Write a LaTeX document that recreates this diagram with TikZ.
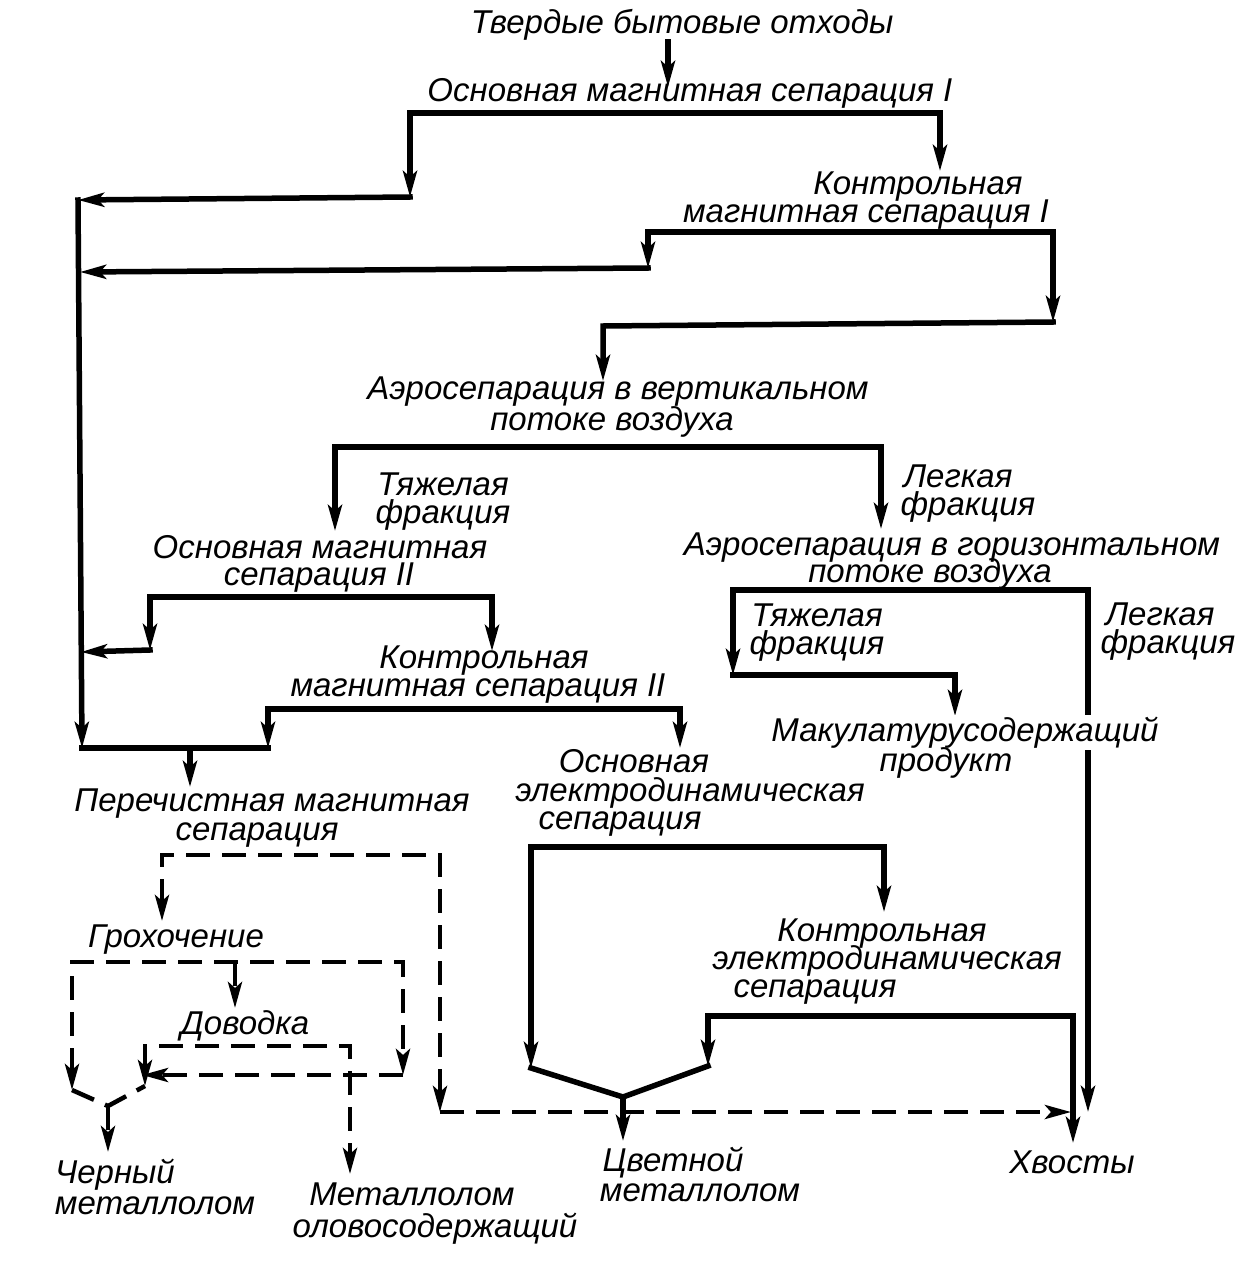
\documentclass[tikz,border=0pt]{standalone}
\usepackage{fontspec}
\setmainfont{Liberation Sans}
\usetikzlibrary{arrows.meta}
\begin{document}
\begin{tikzpicture}[x=1pt,y=-1pt,
  >={Stealth[length=26pt,width=14pt,inset=6pt]},
  lbl/.style={font=\itshape\fontsize{33}{33}\selectfont, inner sep=0pt, anchor=base},
  solidln/.style={line width=5.5pt, line join=miter, line cap=rect},
  dashln/.style={line width=4.5pt, line join=miter, dash pattern=on 24pt off 12pt}]
\useasboundingbox (0,0) rectangle (1256,1266);
\fill[white] (0,0) rectangle (1256,1266);
% ---------- coordinates ----------
\coordinate (p1a) at (668,42); \coordinate (p1b) at (668,87);
\coordinate (a1) at (410,113); \coordinate (a2) at (940,113);
\coordinate (a3) at (410,197); \coordinate (a4) at (940,171);
\coordinate (L1) at (78,200); \coordinate (L2) at (80,272);
\coordinate (L3) at (81,652); \coordinate (L4) at (82,748);
\coordinate (b1) at (648,232); \coordinate (b2) at (1053,232);
\coordinate (b3) at (648,268); \coordinate (b4) at (1053,322);
\coordinate (b5) at (603,326); \coordinate (b6) at (603,381);
\coordinate (c1) at (335,447); \coordinate (c2) at (881,447);
\coordinate (c3) at (335,531); \coordinate (c4) at (881,529);
\coordinate (d1) at (150,597); \coordinate (d2) at (492,597);
\coordinate (d3) at (150,650); \coordinate (d4) at (492,651);
\coordinate (e1) at (268,709); \coordinate (e2) at (680,709);
\coordinate (e3) at (268,748); \coordinate (e4) at (680,748);
\coordinate (e5) at (190,748); \coordinate (e6) at (190,787);
\coordinate (f1) at (733,590); \coordinate (f2) at (1088,590);
\coordinate (f3) at (733,675); \coordinate (f4) at (955,675);
\coordinate (f5) at (955,716); \coordinate (f6) at (1088,1112);
\coordinate (g1) at (531,847); \coordinate (g2) at (884,847);
\coordinate (g3) at (531,1068); \coordinate (g4) at (884,912);
\coordinate (h1) at (708,1016); \coordinate (h2) at (1073,1016);
\coordinate (h3) at (708,1066); \coordinate (h4) at (1073,1143);
\coordinate (m1) at (623,1097); \coordinate (m2) at (623,1141);
\coordinate (q1) at (162,855); \coordinate (q2) at (440,855);
\coordinate (q3) at (162,921); \coordinate (q4) at (440,1112);
\coordinate (q5) at (1071,1112);
\coordinate (r1) at (72,962); \coordinate (r2) at (403,962);
\coordinate (r3) at (235,962); \coordinate (r4) at (235,1008);
\coordinate (r5) at (72,1090); \coordinate (r6) at (403,1075);
\coordinate (r7) at (142,1075);
\coordinate (s1) at (145,1046); \coordinate (s2) at (350,1046);
\coordinate (s3) at (145,1086); \coordinate (s4) at (350,1174);
\coordinate (u1) at (108,1106); \coordinate (u2) at (108,1152);
% ---------- solid connectors ----------
\draw[solidln,->] (p1a) -- (p1b);
\draw[solidln,<->] (a3) -- (a1) -- (a2) -- (a4);
\draw[solidln,->] (a3) -- (L1);
\draw[solidln,->] (L1) -- (L4);
\draw[solidln,<->] (b3) -- (b1) -- (b2) -- (b4);
\draw[solidln,->] (b4) -- (b5) -- (b6);
\draw[solidln,->] (b3) -- (L2);
\draw[solidln,<->] (c3) -- (c1) -- (c2) -- (c4);
\draw[solidln,<->] (d3) -- (d1) -- (d2) -- (d4);
\draw[solidln,->] (d3) -- (L3);
\draw[solidln,<->] (e3) -- (e1) -- (e2) -- (e4);
\draw[solidln] (L4) -- (e3);
\draw[solidln,->] (e5) -- (e6);
\draw[solidln,<->] (f3) -- (f1) -- (f2) -- (f6);
\draw[solidln,->] (f3) -- (f4) -- (f5);
\draw[solidln,<->] (g3) -- (g1) -- (g2) -- (g4);
\draw[solidln,<->] (h3) -- (h1) -- (h2) -- (h4);
\draw[solidln] (g3) -- (m1) -- (h3);
\draw[solidln,->] (m1) -- (m2);
% ---------- dashed connectors ----------
\draw[dashln,<->] (q3) -- (q1) -- (q2) -- (q4);
\draw[dashln,->] (q4) -- (q5);
\draw[dashln,<->] (r5) -- (r1) -- (r2) -- (r6);
\draw[dashln,->] (r6) -- (r7);
\draw[dashln,->] (r3) -- (r4);
\draw[dashln,<->] (s3) -- (s1) -- (s2) -- (s4);
\draw[dashln] (r5) -- (u1) -- (s3);
\draw[dashln,->] (u1) -- (u2);
% ---------- labels ----------
\node[lbl] (t1) at (682,33) {Твердые бытовые отходы};
\node[lbl] (ms1) at (690,101) {Основная магнитная сепарация I};
\node[lbl] (kms1a) at (918,194) {Контрольная};
\node[lbl] (kms1b) at (866,222) {магнитная сепарация I};
\node[lbl] (av1) at (618,399) {Аэросепарация в вертикальном};
\node[lbl] (av2) at (612,430) {потоке воздуха};
\node[lbl] (th1) at (443,495) {Тяжелая};
\node[lbl] (th2) at (443,523) {фракция};
\node[lbl] (lg1) at (958,487) {Легкая};
\node[lbl] (lg2) at (968,515) {фракция};
\node[lbl] (ms2a) at (320,558) {Основная магнитная};
\node[lbl] (ms2b) at (319,585) {сепарация II};
\node[lbl] (ah1) at (952,555) {Аэросепарация в горизонтальном};
\node[lbl] (ah2) at (930,582) {потоке воздуха};
\node[lbl] (th3) at (817,626) {Тяжелая};
\node[lbl] (th4) at (817,654) {фракция};
\node[lbl] (lg3) at (1160,625) {Легкая};
\node[lbl] (lg4) at (1168,653) {фракция};
\node[lbl] (kms2a) at (484,668) {Контрольная};
\node[lbl] (kms2b) at (478,696) {магнитная сепарация II};
\node[lbl, fill=white, inner sep=2pt] (mk1) at (965,741) {Макулатурусодержащий};
\node[lbl] (mk2) at (946,771) {продукт};
\node[lbl] (oe1) at (634,772) {Основная};
\node[lbl] (oe2) at (690,801) {электродинамическая};
\node[lbl] (oe3) at (620,829) {сепарация};
\node[lbl] (pm1) at (272,811) {Перечистная магнитная};
\node[lbl] (pm2) at (257,840) {сепарация};
\node[lbl] (ke1) at (882,941) {Контрольная};
\node[lbl] (ke2) at (887,969) {электродинамическая};
\node[lbl] (ke3) at (815,997) {сепарация};
\node[lbl] (gr) at (176,947) {Грохочение};
\node[lbl] (dv) at (245,1034) {Доводка};
\node[lbl] (cm1) at (115,1183) {Черный};
\node[lbl] (cm2) at (155,1214) {металлолом};
\node[lbl] (mo1) at (412,1205) {Металлолом};
\node[lbl] (mo2) at (435,1237) {оловосодержащий};
\node[lbl] (cv1) at (673,1171) {Цветной};
\node[lbl] (cv2) at (700,1201) {металлолом};
\node[lbl] (hv) at (1072,1173) {Хвосты};
\end{tikzpicture}
\end{document}
